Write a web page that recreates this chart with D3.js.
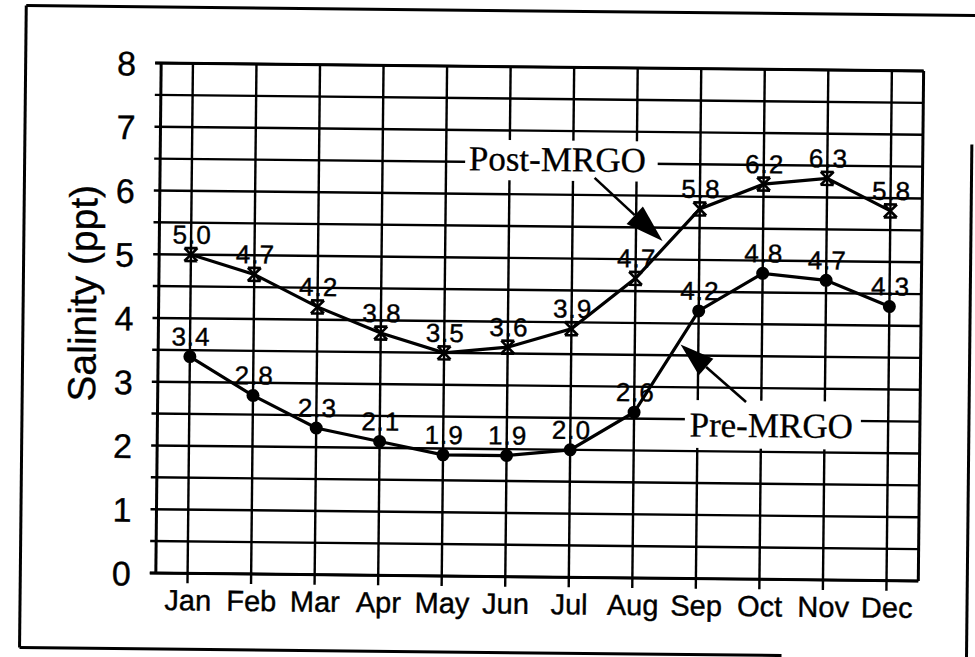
<!DOCTYPE html>
<html>
<head>
<meta charset="utf-8">
<script src="https://cdn.jsdelivr.net/npm/d3@7"></script>
<style>
  html, body { margin: 0; padding: 0; background: #fff; }
  svg { display: block; }
</style>
</head>
<body>
<svg id="chart" width="975" height="657"></svg>
<script>
// ---------------- data ----------------
const months = ["Jan", "Feb", "Mar", "Apr", "May", "Jun", "Jul", "Aug", "Sep", "Oct", "Nov", "Dec"];
const postMRGO = [5.0, 4.7, 4.2, 3.8, 3.5, 3.6, 3.9, 4.7, 5.8, 6.2, 6.3, 5.8];
const preMRGO  = [3.4, 2.8, 2.3, 2.1, 1.9, 1.9, 2.0, 2.6, 4.2, 4.8, 4.7, 4.3];
const yTicks = [0, 1, 2, 3, 4, 5, 6, 7, 8];
const yGrid = [0, 0.5, 1, 1.5, 2, 2.5, 3, 3.5, 4, 4.5, 5, 5.5, 6, 6.5, 7, 7.5, 8];
const yTitle = "Salinity (ppt)";
const postName = "Post-MRGO";
const preName = "Pre-MRGO";

// ---------------- layout ----------------
const svg = d3.select("#chart");
const root = svg.append("g").attr("transform", "rotate(0.6, 540, 320)");

const x = d3.scalePoint().domain(months).range([158.5, 921]).padding(0.5);
const y = d3.scaleLinear().domain([0, 8]).range([577, 67]);
const xi = i => x(months[0]) + i * x.step();   // fractional month index -> px
const [x0, x1] = x.range();
const sans = "Arial, 'Liberation Sans', sans-serif";
const serif = "'Liberation Serif', 'Times New Roman', serif";

// outer frame (scanned page border)
const frame = root.append("g").attr("stroke", "#000").attr("stroke-width", 3).attr("fill", "none");
frame.append("line").attr("x1", 23).attr("y1", 11).attr("x2", 985).attr("y2", 11);
frame.append("line").attr("x1", 23).attr("y1", 11).attr("x2", 23).attr("y2", 653);
frame.append("line").attr("x1", 23).attr("y1", 653).attr("x2", 785).attr("y2", 653);
frame.append("line").attr("x1", 970).attr("y1", 140).attr("x2", 970).attr("y2", 680);

// grid: horizontal
const grid = root.append("g").attr("stroke", "#000").attr("stroke-width", 2.4);
grid.selectAll("line.h").data(yGrid).join("line")
  .attr("class", "h")
  .attr("x1", x0 - 6).attr("x2", x1)
  .attr("y1", d => y(d)).attr("y2", d => y(d));
// grid: vertical month lines (extend below axis as ticks)
grid.selectAll("line.v").data(months).join("line")
  .attr("class", "v")
  .attr("x1", d => x(d)).attr("x2", d => x(d))
  .attr("y1", y(8)).attr("y2", y(0) + 10);
// plot edges
grid.append("line").attr("x1", x0).attr("x2", x0).attr("y1", y(8)).attr("y2", y(0)).attr("stroke-width", 3);
grid.append("line").attr("x1", x1).attr("x2", x1).attr("y1", y(8)).attr("y2", y(0)).attr("stroke-width", 3);
grid.append("line").attr("x1", x0 - 6).attr("x2", x1).attr("y1", y(0)).attr("y2", y(0)).attr("stroke-width", 3);
grid.append("line").attr("x1", x0 - 6).attr("x2", x1).attr("y1", y(8)).attr("y2", y(8)).attr("stroke-width", 3);

// axes labels via d3 axes (domain & ticks hidden; gridlines drawn above)
const yAxis = root.append("g").attr("transform", `translate(${x0 - 25},0)`)
  .call(d3.axisLeft(y).tickValues(yTicks).tickFormat(d3.format("d")).tickSize(0).tickPadding(0));
yAxis.select(".domain").remove();
yAxis.selectAll("text")
  .attr("font-family", sans)
  .attr("font-size", 34).attr("fill", "#000").attr("stroke", "#000").attr("stroke-width", 0.4)
  .attr("dy", "0.36em");

const xAxis = root.append("g").attr("transform", `translate(0,${y(0)})`)
  .call(d3.axisBottom(x).tickSize(0).tickPadding(0));
xAxis.select(".domain").remove();
xAxis.selectAll("text")
  .attr("font-family", sans)
  .attr("font-size", 29).attr("fill", "#000").attr("stroke", "#000").attr("stroke-width", 0.4)
  .attr("dy", 0).attr("y", 37);

// y title
root.append("text")
  .attr("transform", `translate(96, ${y(4) - 24}) rotate(-90)`)
  .attr("text-anchor", "middle")
  .attr("font-family", sans)
  .attr("font-size", 39).attr("fill", "#000").attr("stroke", "#000").attr("stroke-width", 0.3)
  .text(yTitle);

// annotation boxes (white backgrounds over the grid)
const ann = root.append("g");
function annBox(i0, i1, v0, v1) {
  ann.append("rect")
    .attr("x", xi(i0)).attr("y", y(v0))
    .attr("width", xi(i1) - xi(i0)).attr("height", y(v1) - y(v0))
    .attr("fill", "#fff");
}
annBox(4.3, 7.33, 6.85, 6.22);
annBox(7.8, 10.57, 2.80, 2.05);
ann.append("text")
  .attr("x", xi(5.75)).attr("y", y(6.37))
  .attr("text-anchor", "middle")
  .attr("font-family", serif).attr("stroke", "#000").attr("stroke-width", 0.3)
  .attr("font-size", 35).attr("fill", "#000").text(postName);
ann.append("text")
  .attr("x", xi(9.16)).attr("y", y(2.23))
  .attr("text-anchor", "middle")
  .attr("font-family", serif).attr("stroke", "#000").attr("stroke-width", 0.3)
  .attr("font-size", 35).attr("fill", "#000").text(preName);

// series lines
const line = d3.line().x((d, i) => x(months[i])).y(d => y(d));
root.append("path").datum(postMRGO).attr("d", line)
  .attr("fill", "none").attr("stroke", "#000").attr("stroke-width", 3.2);
root.append("path").datum(preMRGO).attr("d", line)
  .attr("fill", "none").attr("stroke", "#000").attr("stroke-width", 3.2);

// markers
const s = 6.5;
const star = `M${-s},${-s}L${s},${s}M${s},${-s}L${-s},${s}M${-s},${-s}L${s},${-s}M${-s},${s}L${s},${s}`;
root.append("g").selectAll("path").data(postMRGO).join("path")
  .attr("transform", (d, i) => `translate(${x(months[i])},${y(d)})`)
  .attr("d", star).attr("fill", "none").attr("stroke", "#000").attr("stroke-width", 2.6);
root.append("g").selectAll("circle").data(preMRGO).join("circle")
  .attr("cx", (d, i) => x(months[i])).attr("cy", d => y(d))
  .attr("r", 6.5).attr("fill", "#000");

// data labels
const fmt = d3.format(".1f");
function labels(data) {
  root.append("g").selectAll("text").data(data).join("text")
    .attr("x", (d, i) => x(months[i]) + 1).attr("y", d => y(d) - 11)
    .attr("text-anchor", "middle")
    .attr("font-family", sans)
    .attr("font-size", 26).attr("letter-spacing", 1).attr("fill", "#000")
    .attr("stroke", "#000").attr("stroke-width", 0.4)
    .text(d => fmt(d));
}
labels(postMRGO);
labels(preMRGO);

// arrows
function arrow(i0, v0, i1, v1, len, hw) {
  const ax = xi(i0), ay = y(v0), bx = xi(i1), by = y(v1);
  const dx = bx - ax, dy = by - ay, L = Math.hypot(dx, dy);
  const ux = dx / L, uy = dy / L;
  const cx = bx - ux * len, cy = by - uy * len;
  root.append("line").attr("x1", ax).attr("y1", ay).attr("x2", cx).attr("y2", cy)
    .attr("stroke", "#000").attr("stroke-width", 2.6);
  root.append("path")
    .attr("d", `M${bx},${by}L${cx - uy * hw},${cy + ux * hw}L${cx + uy * hw},${cy - ux * hw}Z`)
    .attr("fill", "#000");
}
arrow(6.34, 6.27, 7.42, 5.29, 38, 12);
arrow(8.76, 2.78, 7.72, 3.67, 34, 11);
</script>
</body>
</html>
